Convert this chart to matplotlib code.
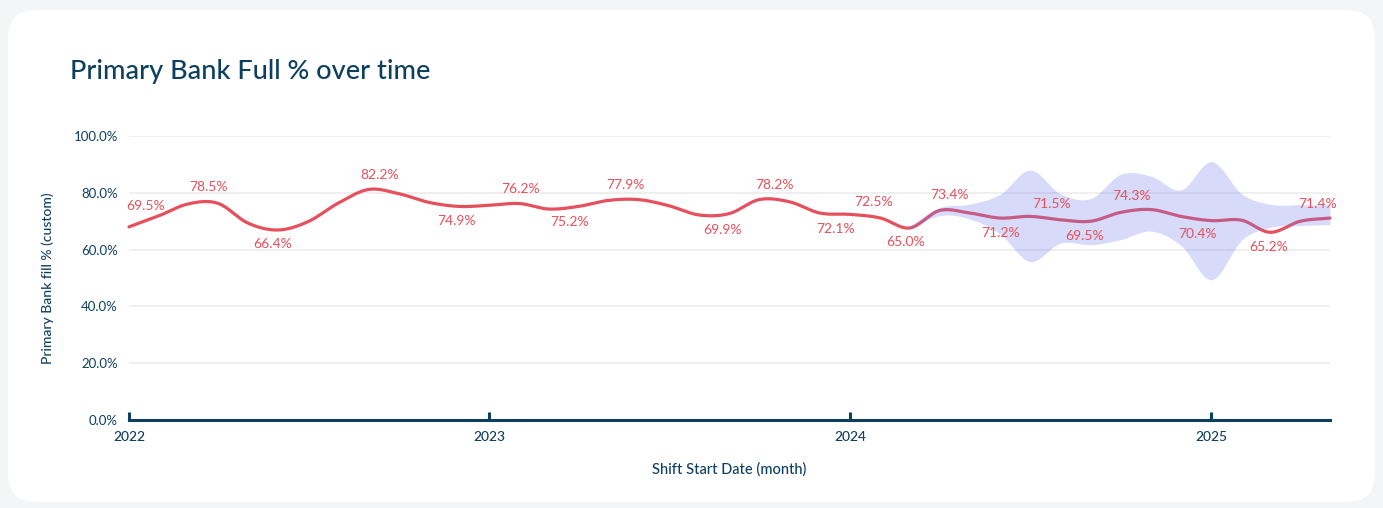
import numpy as np
import pandas as pd
import matplotlib
matplotlib.use("Agg")
from matplotlib import pyplot as plt
import matplotlib.dates as mdates
from matplotlib.patches import FancyBboxPatch
from matplotlib.ticker import FuncFormatter

# monthly fill % as drawn by the smoothed line
months = pd.date_range("2022-01-01", "2025-05-01", freq="MS")
fill_pct = [68.0, 72.0, 76.0, 76.3, 69.4, 66.9, 69.8, 76.4, 81.2, 79.7,
            76.6, 75.2, 75.6, 76.2, 74.3, 75.2, 77.3, 77.6, 75.5, 72.2,
            72.7, 77.6, 76.8, 72.9, 72.4, 71.1, 67.6, 73.8, 72.9, 71.1,
            71.7, 70.5, 70.0, 73.1, 74.1, 71.7, 70.2, 70.3, 66.1, 70.0, 71.1]

# forecast band (from 2024-03)
band_months = pd.date_range("2024-03-01", "2025-05-01", freq="MS")
band_upper = [68.2, 74.8, 76.0, 79.5, 88.0, 79.7, 78.0, 86.5, 85.8, 81.0,
              91.0, 79.5, 76.0, 75.8, 75.8]
band_lower = [67.0, 72.0, 70.8, 65.5, 55.8, 62.3, 61.7, 63.5, 66.5, 61.5,
              49.4, 63.5, 67.8, 68.5, 68.8]

# point labels
label_dates = ["2022-01-01", "2022-03-22", "2022-05-26", "2022-09-12", "2022-11-29",
               "2023-02-01", "2023-03-23", "2023-05-19", "2023-08-25", "2023-10-17",
               "2023-12-17", "2024-01-25", "2024-02-26", "2024-04-11", "2024-06-01",
               "2024-07-23", "2024-08-25", "2024-10-12", "2024-12-18", "2025-02-28",
               "2025-04-18"]
label_vals = [69.5, 78.5, 66.4, 82.2, 74.9, 76.2, 75.2, 77.9, 69.9, 78.2, 72.1,
              72.5, 65.0, 73.4, 71.2, 71.5, 69.5, 74.3, 70.4, 65.2, 71.4]
label_side = [1, 1, -1, 1, -1, 1, -1, 1, -1, 1, -1, 1, -1, 1, -1, 1, -1, 1, -1, -1, 1]

years = ["2022", "2023", "2024", "2025"]

NAVY = "#0D3F5E"
RED = "#E6505D"
FONT = "Lato"


def smooth(x, y, n=24):
    # cubic hermite through the points
    x = np.asarray(x, float)
    y = np.asarray(y, float)
    m = np.gradient(y, x)
    t = np.linspace(0, 1, n, endpoint=False)
    h00 = 2*t**3 - 3*t**2 + 1
    h10 = t**3 - 2*t**2 + t
    h01 = -2*t**3 + 3*t**2
    h11 = t**3 - t**2
    xs, ys = [], []
    for i in range(len(x) - 1):
        h = x[i+1] - x[i]
        xs.append(x[i] + t*h)
        ys.append(h00*y[i] + h10*h*m[i] + h01*y[i+1] + h11*h*m[i+1])
    xs.append([x[-1]])
    ys.append([y[-1]])
    return np.concatenate(xs), np.concatenate(ys)


W, H = 1383, 508
fig = plt.figure(figsize=(W/100, H/100), dpi=100, facecolor="#F4F5F7")

# white card behind everything
bg = fig.add_axes([0, 0, 1, 1], zorder=-1)
bg.set_xlim(0, W)
bg.set_ylim(H, 0)
bg.axis("off")
bg.add_patch(FancyBboxPatch((8, 10), W - 16, H - 16,
                            boxstyle="round,pad=0,rounding_size=28",
                            fc="white", ec="none"))

fig.text(70/W, 1 - 72/H, "Primary Bank Full % over time", fontsize=19.5,
         color=NAVY, family=FONT, fontweight="medium", va="center", ha="left")

ax = fig.add_axes([129/W, 1 - 420/H, (1330 - 129)/W, (420 - 136)/H])
ax.set_facecolor("none")

lx, ly = smooth(mdates.date2num(months), fill_pct)
ax.plot(lx, ly, color=RED, lw=2.3, solid_capstyle="round", zorder=3, clip_on=False)

bx = mdates.date2num(band_months)
ux, uy = smooth(bx, band_upper)
_, dy = smooth(bx, band_lower)
ax.fill_between(ux, dy, uy, color="#747BF0", alpha=0.28, lw=0, zorder=4)

ldx = mdates.date2num(pd.to_datetime(label_dates))
for i, (d, v, s) in enumerate(zip(ldx, label_vals, label_side)):
    yc = np.interp(d, lx, ly)
    ha = "left" if i == 0 else "center"
    dx = -2 if i == 0 else 0
    dyo = 15 if i == 0 else 10.5
    ax.annotate(f"{v:.1f}%", (d, yc), xytext=(dx, s*dyo), textcoords="offset points",
                ha=ha, va="center", fontsize=10, color=RED, family=FONT, zorder=5)

ax.set_xlim(lx[0], lx[-1])
ax.set_ylim(0, 100)
ax.set_yticks(np.arange(0, 101, 20))
ax.yaxis.set_major_formatter(FuncFormatter(lambda v, p: f"{v:.1f}%"))
ax.set_xticks(mdates.date2num(pd.to_datetime([y + "-01-01" for y in years])))
ax.set_xticklabels(years)
ax.grid(axis="y", color="#EFEFEF", lw=1.4, zorder=0)
ax.set_axisbelow(True)

for side in ["top", "right", "left"]:
    ax.spines[side].set_visible(False)
ax.spines["bottom"].set_color(NAVY)
ax.spines["bottom"].set_linewidth(2.2)
ax.spines["bottom"].set_zorder(6)

ax.tick_params(axis="y", length=0, pad=8, labelsize=9.5, labelcolor=NAVY)
ax.tick_params(axis="x", direction="in", length=6, width=2.2, color=NAVY,
               pad=8, labelsize=10, labelcolor=NAVY)
for lab in ax.get_xticklabels() + ax.get_yticklabels():
    lab.set_family(FONT)
for lab in ax.get_xticklabels():
    lab.set_fontweight("medium")

ax.set_ylabel("Primary Bank fill % (custom)", fontsize=10, color=NAVY, family=FONT,
              fontweight="medium", labelpad=14)
ax.set_xlabel("Shift Start Date (month)", fontsize=10.5, color=NAVY, family=FONT,
              fontweight="medium", labelpad=14)

fig.savefig("out.png", dpi=100, facecolor=fig.get_facecolor())
